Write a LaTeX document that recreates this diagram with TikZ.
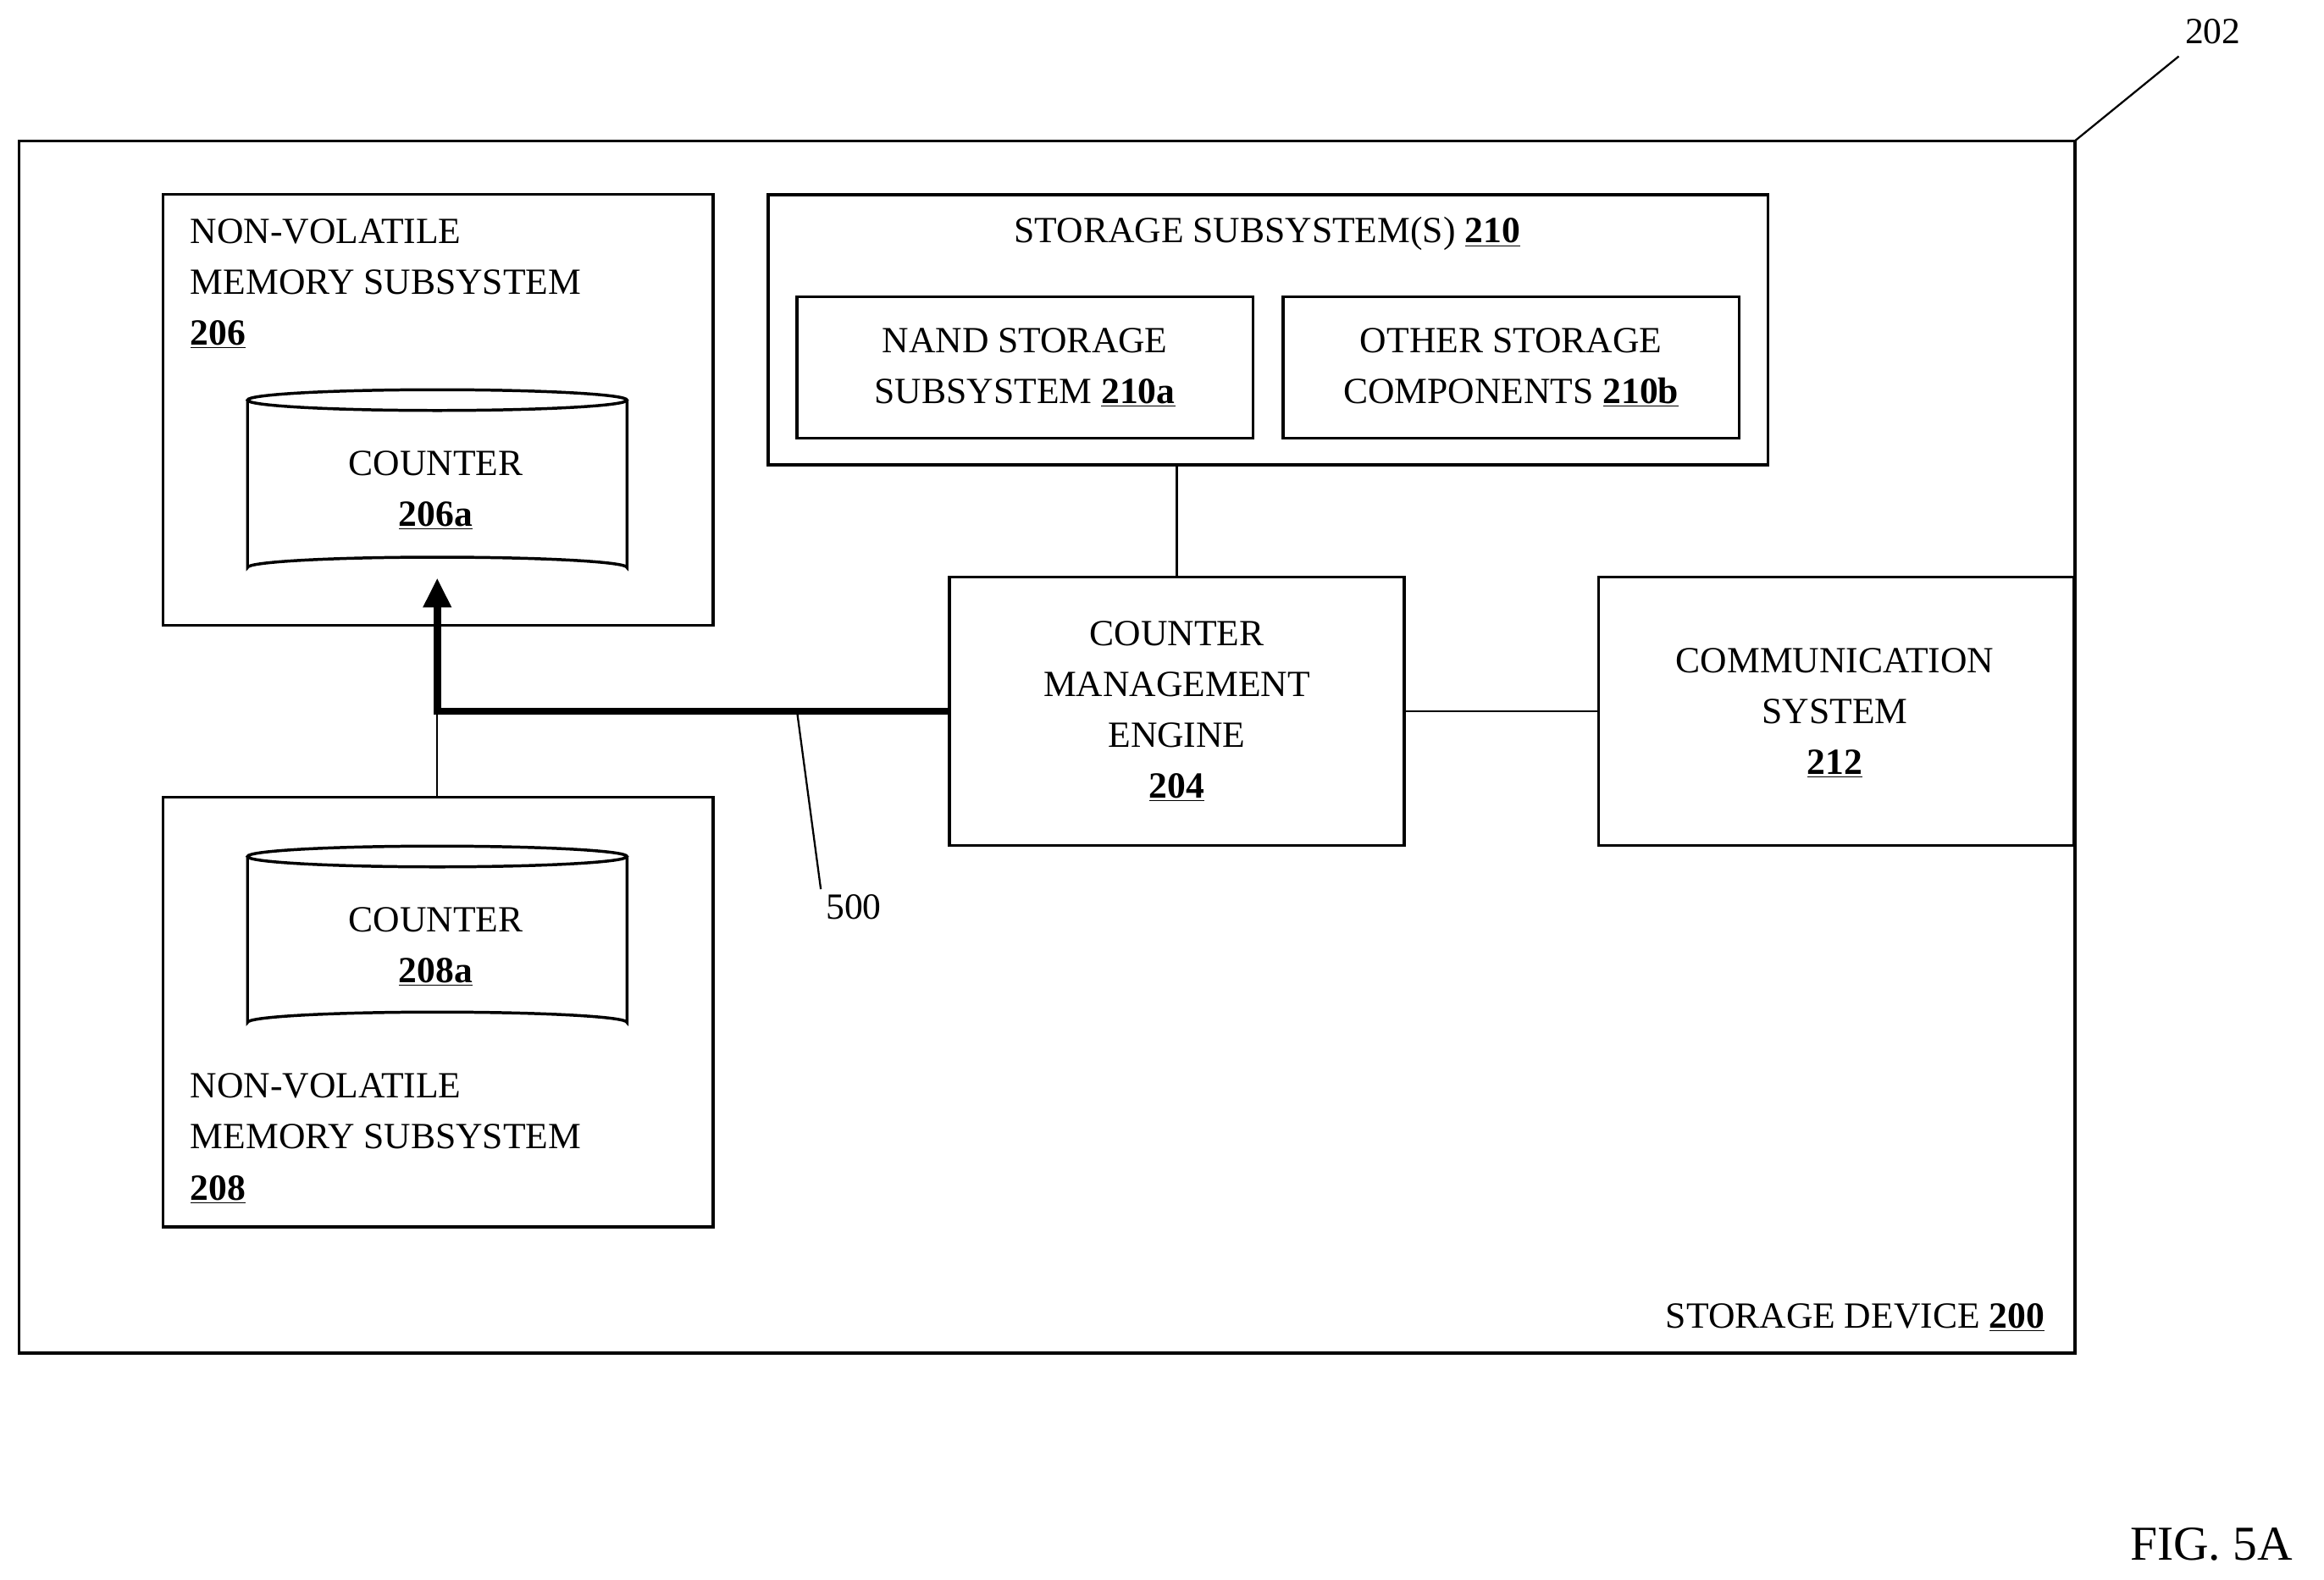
\documentclass[tikz,border=0pt]{standalone}
\usepackage{fontspec}
\setmainfont{Liberation Serif}
\usetikzlibrary{arrows.meta}
\begin{document}
\begin{tikzpicture}[x=1bp,y=-1bp,
  box/.style={draw,line width=2pt,inner sep=0pt},
  txt/.style={font=\fontsize{25}{34.5}\selectfont,align=center},
  ln/.style={line width=1.3pt}]
\useasboundingbox (0,0) rectangle (1568,1066);
\def\u#1{\underline{\textbf{#1}}}
% outer
\draw[box] (13,95) rectangle (1400,913);
\coordinate (oc) at (1400,95); \coordinate (l202) at (1470,38);
\draw[ln] (oc) -- (l202);
\node[txt] (t202) at (1493,21) {202};
\node[txt,anchor=east] (t200) at (1383,889) {STORAGE DEVICE \u{200}};
% 206
\draw[box] (110,131) rectangle (481,422);
\node[txt,align=left,anchor=north west] (t206) at (125,144) {NON-VOLATILE\\MEMORY SUBSYSTEM\\\u{206}};
\draw[box,fill=white] (167,270) -- (167,383) arc[start angle=180,end angle=360,x radius=128,y radius=7] -- (423,270);
\draw[box] (295,270) ellipse[x radius=128,y radius=7];
\node[txt] (c206) at (294,331) {COUNTER\\\u{206a}};
\coordinate (c206b) at (295,390);
% 208
\draw[box] (110,538) rectangle (481,828);
\node[txt,align=left,anchor=north west] (t208) at (125,721) {NON-VOLATILE\\MEMORY SUBSYSTEM\\\u{208}};
\draw[box,fill=white] (167,578) -- (167,690) arc[start angle=180,end angle=360,x radius=128,y radius=7] -- (423,578);
\draw[box] (295,578) ellipse[x radius=128,y radius=7];
\node[txt] (c208) at (294,639) {COUNTER\\\u{208a}};
\coordinate (b208) at (295,538);
% 210
\node[box,minimum width=677,minimum height=183] (s210) at (855.5,222.5) {};
\node[txt] at (855,158) {STORAGE SUBSYSTEM(S) \u{210}};
\node[box,txt,minimum width=309,minimum height=96] (n210a) at (691.5,248) {NAND STORAGE\\SUBSYSTEM \u{210a}};
\node[box,txt,minimum width=309,minimum height=96] (n210b) at (1019.5,248) {OTHER STORAGE\\COMPONENTS \u{210b}};
% 204
\node[box,txt,minimum width=308,minimum height=182] (cme) at (794,480) {COUNTER\\MANAGEMENT\\ENGINE\\\u{204}};
% 212
\node[box,minimum width=322,minimum height=182] (com) at (1239,480) {};
\node[txt] at (1238,481) {COMMUNICATION\\SYSTEM\\\u{212}};
% connections
\draw[ln] (s210.south -| cme.north) -- (cme.north);
\draw[ln] (cme.east) -- (com.west);
\coordinate (j) at (295,480);
\draw[ln] (j) -- (b208);
\draw[line width=5pt,-{Triangle[length=20pt,width=18pt]}] (cme.west) -- (j) -- (c206b);
\coordinate (p500) at (538,482);
\node[txt] (t500) at (576,612) {500};
\draw[ln] (p500) -- (t500.north west);
\node[font=\fontsize{33}{40}\selectfont] (fig) at (1492,1042) {FIG. 5A};
\end{tikzpicture}
\end{document}
